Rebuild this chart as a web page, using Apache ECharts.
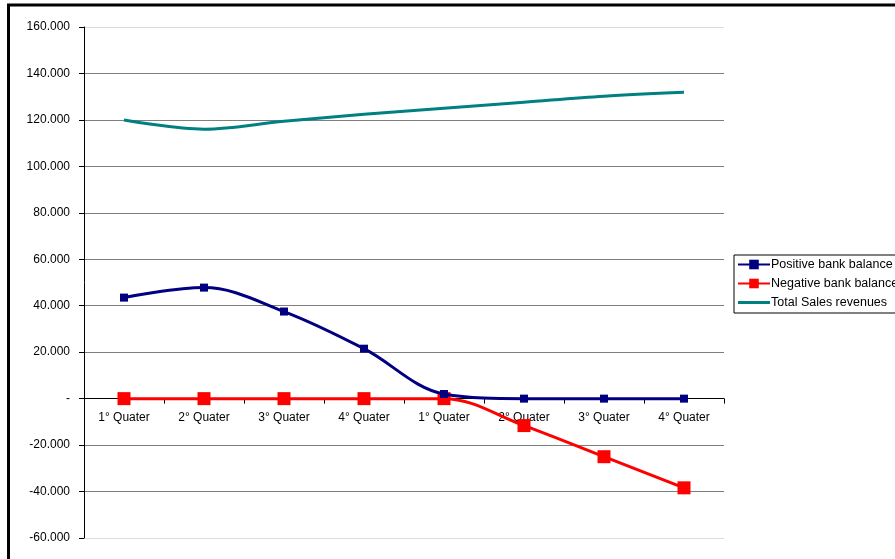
<!DOCTYPE html>
<html><head><meta charset="utf-8">
<script src="https://cdn.jsdelivr.net/npm/echarts@6/dist/echarts.min.js"></script>
<style>html,body{margin:0;padding:0;background:#fff}#c{width:895px;height:559px}</style>
</head><body><div id="c"></div>
<script>
const categories = ['1° Quater','2° Quater','3° Quater','4° Quater','1° Quater','2° Quater','3° Quater','4° Quater'];
const positiveBalance = [43500, 47800, 37500, 21500, 2000, 0, 0, 0];
const negativeBalance = [0, 0, 0, 0, 0, -11600, -25000, -38400];
const totalSales = [120000, 116000, 119400, 122400, 125000, 127600, 130200, 131900];
const yTicks = { min: -60000, max: 160000, interval: 20000 };

function fmt(v){
  if (v === 0) return '-';
  const s = Math.abs(v).toString().replace(/\B(?=(\d{3})+(?!\d))/g, '.');
  return (v < 0 ? '-' : '') + s;
}
const gridColors = [];
for (let v = yTicks.min; v <= yTicks.max; v += yTicks.interval) {
  gridColors.push((v === yTicks.min || v === yTicks.max) ? '#dcdcdc' : '#7f7f7f');
}
const gridTop = 27, gridBottom = 21, H = 559;
const plotH = H - gridTop - gridBottom;
const zeroOffset = -plotH * (0 - yTicks.min) / (yTicks.max - yTicks.min);

const chart = echarts.init(document.getElementById('c'), null, {renderer:'canvas'});
const font = 'Liberation Sans, Arial, sans-serif';
chart.setOption({
  animation: false,
  textStyle: { fontFamily: font },
  grid: { left: 84, right: 171, top: gridTop, bottom: gridBottom },
  graphic: [{
    type: 'rect', z: 100, silent: true,
    shape: { x: 8.5, y: 5, width: 1000, height: 1000 },
    style: { fill: 'none', stroke: '#000', lineWidth: 3 }
  }],
  legend: {
    orient: 'vertical', left: 734, top: 255,
    itemWidth: 32, itemHeight: 12, itemGap: 6,
    padding: [3, 8, 4, 3],
    borderColor: '#000', borderWidth: 1, borderRadius: 0,
    textStyle: { fontFamily: font, fontSize: 12.5, color: '#000', padding: [0,0,0,-4] },
    data: ['Positive bank balance','Negative bank balance',
      { name: 'Total Sales revenues', icon: 'path://M0,0L32,0L32,3L0,3Z' }]
  },
  xAxis: {
    type: 'category', data: categories, boundaryGap: true,
    position: 'bottom', offset: zeroOffset,
    axisLine: { onZero: false, lineStyle: { color: '#000', width: 1 } },
    axisTick: { show: true, length: 5, inside: false, lineStyle: { color: '#000' } },
    axisLabel: { color: '#000', fontSize: 12, fontFamily: font, margin: 13 },
    splitLine: { show: false }
  },
  yAxis: {
    type: 'value', min: yTicks.min, max: yTicks.max, interval: yTicks.interval,
    axisLine: { show: true, lineStyle: { color: '#000', width: 1 } },
    axisTick: { show: true, length: 5, lineStyle: { color: '#000' } },
    axisLabel: { color: '#000', fontSize: 12, fontFamily: font, margin: 14, formatter: fmt },
    splitLine: { show: true, lineStyle: { color: gridColors, width: 1 } }
  },
  series: [
    { name: 'Positive bank balance', type: 'line', data: positiveBalance, smooth: 0.35,
      symbol: 'rect', symbolSize: 8, z: 4,
      lineStyle: { color: '#000080', width: 3 }, itemStyle: { color: '#000080' } },
    { name: 'Negative bank balance', type: 'line', data: negativeBalance, smooth: 0.35,
      symbol: 'rect', symbolSize: 13, z: 3,
      lineStyle: { color: '#ff0000', width: 3 }, itemStyle: { color: '#ff0000' } },
    { name: 'Total Sales revenues', type: 'line', data: totalSales, smooth: 0.35,
      symbol: 'none', z: 2,
      lineStyle: { color: '#008080', width: 3 }, itemStyle: { color: '#008080' } }
  ]
});
</script></body></html>
